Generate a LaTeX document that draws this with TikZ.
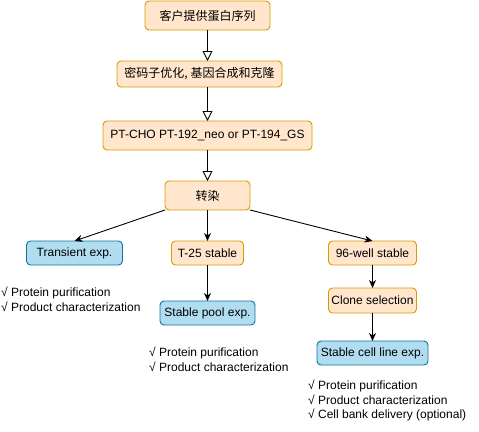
\documentclass[tikz,border=0pt]{standalone}
\usepackage{fontspec}
\setmainfont{Liberation Sans}
\newfontfamily\cjk{Noto Sans CJK SC}
\usepackage{xcolor}
\definecolor{orangebg}{HTML}{FFE6CC}
\definecolor{orangebd}{HTML}{D79B00}
\definecolor{bluebg}{HTML}{B1DDF0}
\definecolor{bluebd}{HTML}{10739E}
\usetikzlibrary{arrows.meta, positioning}

\begin{document}
\begin{tikzpicture}[
        x=1pt, y=-1pt,
        font=\fontsize{12}{14.6}\selectfont,
        step_box/.style={
            rectangle,
            rounded corners=4pt,
            draw=orangebd,
            fill=orangebg,
            line width=0.9pt,
            align=center,
            inner sep=0pt,
            outer sep=0pt,
            minimum height=24pt
        },
        exp_box/.style={
            step_box,
            draw=bluebd,
            fill=bluebg
        },
        note_text/.style={
            anchor=north west,
            align=left,
            inner sep=0pt
        },
        arrow/.style={
            -{Stealth[length=8pt, width=7pt, inset=2.5pt]},
            line width=0.9pt
        },
        open_arrow/.style={
            -{Triangle[open, length=10pt, width=10pt, fill=white]},
            line width=0.9pt
        }
    ]
    \useasboundingbox (0,0) rectangle (479,431);

    % Top chain
    \node[step_box, minimum width=125pt, minimum height=29pt] (seq) at (207.5,15.5) {\cjk 客户提供蛋白序列};
    \node[step_box, minimum width=165pt, minimum height=26pt, below=31pt of seq, xshift=-8pt] (codon) {\cjk 密码子优化, 基因合成和克隆};
    \node[step_box, minimum width=209pt, minimum height=29pt, below=34pt of codon, xshift=8pt] (vector) {PT-CHO PT-192\_neo or PT-194\_GS};
    \node[step_box, minimum width=85pt, minimum height=29pt, below=31pt of vector] (transfect) {\cjk 转染};

    \draw[open_arrow] (seq.south) -- (seq.south |- codon.north);
    \draw[open_arrow] (seq.south |- codon.south) -- (vector.north);
    \draw[open_arrow] (vector) -- (transfect);

    % Three branches
    \node[step_box, minimum width=72pt, below=31pt of transfect] (t25) {T-25 stable};
    \node[exp_box, minimum width=96pt, left=49pt of t25] (transient) {Transient exp.};
    \node[step_box, minimum width=88pt, right=85pt of t25] (well96) {96-well stable};
    \node[exp_box, minimum width=95pt, below=36pt of t25] (pool) {Stable pool exp.};
    \node[step_box, minimum width=88pt, minimum height=25pt, below=23pt of well96] (clone) {Clone selection};
    \node[exp_box, minimum width=111pt, below=28pt of clone] (cellline) {Stable cell line exp.};

    \draw[arrow] (transfect.south west) -- (transient.north);
    \draw[arrow] (transfect) -- (t25);
    \draw[arrow] (transfect.south east) -- (well96.north);
    \draw[arrow] (t25) -- (pool);
    \draw[arrow] (well96) -- (clone);
    \draw[arrow] (clone) -- (cellline);

    % Deliverables
    \node[note_text] (transient_note) at (1,287) {√ Protein purification\\√ Product characterization};
    \node[note_text] (pool_note) at (149,347) {√ Protein purification\\√ Product characterization};
    \node[note_text] (cellline_note) at (308,380) {√ Protein purification\\√ Product characterization\\√ Cell bank delivery (optional)};

\end{tikzpicture}
\end{document}
